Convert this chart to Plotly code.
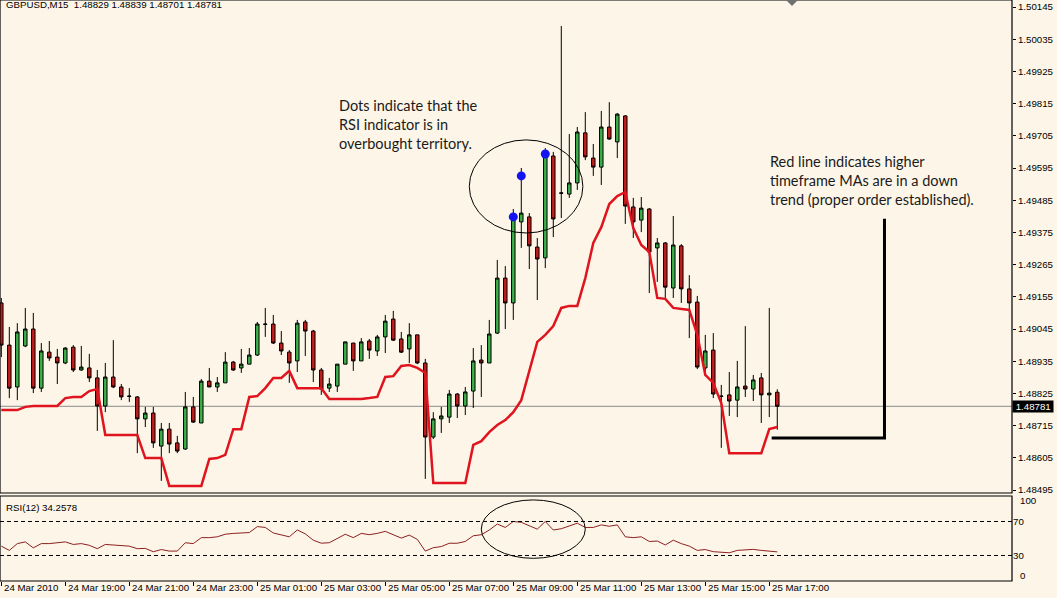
import plotly.graph_objects as go

# GBPUSD M15 candles, starting 24 Mar 2010 17:00
opens = [1.49134, 1.48990, 1.48847, 1.48987, 1.49045, 1.48843, 1.48966, 1.48949, 1.48929, 1.48983,
         1.48905, 1.48912, 1.48878, 1.48782, 1.48881, 1.48847, 1.48816, 1.48813, 1.48738, 1.48758,
         1.48645, 1.48703, 1.48656, 1.48635, 1.48779, 1.48724, 1.48867, 1.48847, 1.48861, 1.48932,
         1.48912, 1.48925, 1.48956, 1.49062, 1.49062, 1.48997, 1.48966, 1.48936, 1.49069, 1.49038,
         1.48905, 1.48843, 1.48850, 1.48925, 1.48997, 1.48936, 1.49004, 1.48970, 1.49018, 1.49079,
         1.49011, 1.48977, 1.49025, 1.48929, 1.48676, 1.48738, 1.48744, 1.48823, 1.48782, 1.48833,
         1.48939, 1.48929, 1.49031, 1.49219, 1.49134, 1.49411, 1.49428, 1.49325, 1.49288, 1.49636,
         1.49510, 1.49506, 1.49544, 1.49715, 1.49629, 1.49598, 1.49735, 1.49684, 1.49773, 1.49462,
         1.49417, 1.49455, 1.49322, 1.49339, 1.49185, 1.49329, 1.49182, 1.49137, 1.48912, 1.48973,
         1.48816, 1.48820, 1.48802, 1.48850, 1.48840, 1.48878, 1.48820, 1.48829]
highs = [1.49151, 1.49052, 1.49065, 1.49117, 1.49100, 1.48997, 1.49004, 1.48977, 1.48983, 1.48990,
         1.48987, 1.48960, 1.48905, 1.48929, 1.49007, 1.48857, 1.48843, 1.48816, 1.48779, 1.48779,
         1.48724, 1.48724, 1.48680, 1.48830, 1.48813, 1.48874, 1.48912, 1.48881, 1.48966, 1.48936,
         1.48977, 1.48980, 1.49069, 1.49117, 1.49093, 1.49038, 1.48973, 1.49076, 1.49076, 1.49042,
         1.48912, 1.48878, 1.48925, 1.49001, 1.48997, 1.49014, 1.49011, 1.49025, 1.49093, 1.49107,
         1.49035, 1.49065, 1.49025, 1.48943, 1.48761, 1.48779, 1.48837, 1.48826, 1.48847, 1.48980,
         1.48990, 1.49076, 1.49281, 1.49260, 1.49455, 1.49595, 1.49441, 1.49356, 1.49663, 1.49650,
         1.50080, 1.49711, 1.49735, 1.49786, 1.49677, 1.49790, 1.49820, 1.49783, 1.49776, 1.49493,
         1.49496, 1.49458, 1.49356, 1.49342, 1.49431, 1.49335, 1.49229, 1.49158, 1.49025, 1.49031,
         1.48854, 1.48898, 1.48936, 1.49055, 1.48888, 1.48895, 1.49117, 1.48839]
lows = [1.48949, 1.48809, 1.48802, 1.48983, 1.48826, 1.48830, 1.48936, 1.48857, 1.48925, 1.48898,
        1.48902, 1.48864, 1.48697, 1.48761, 1.48843, 1.48802, 1.48796, 1.48621, 1.48710, 1.48639,
        1.48526, 1.48621, 1.48621, 1.48632, 1.48724, 1.48724, 1.48847, 1.48830, 1.48861, 1.48902,
        1.48895, 1.48925, 1.48953, 1.49018, 1.48994, 1.48956, 1.48861, 1.48898, 1.48953, 1.48864,
        1.48820, 1.48830, 1.48830, 1.48925, 1.48902, 1.48936, 1.48943, 1.48953, 1.48963, 1.49004,
        1.48963, 1.48929, 1.48925, 1.48533, 1.48669, 1.48690, 1.48724, 1.48741, 1.48751, 1.48775,
        1.48813, 1.48929, 1.49028, 1.49045, 1.49076, 1.49322, 1.49250, 1.49144, 1.49253, 1.49359,
        1.49424, 1.49493, 1.49520, 1.49622, 1.49568, 1.49537, 1.49691, 1.49629, 1.49404, 1.49356,
        1.49376, 1.49168, 1.49206, 1.49151, 1.49151, 1.49134, 1.49014, 1.48908, 1.48884, 1.48809,
        1.48639, 1.48748, 1.48744, 1.48813, 1.48799, 1.48724, 1.48744, 1.48701]
closes = [1.48990, 1.48843, 1.49035, 1.49045, 1.48843, 1.48970, 1.48946, 1.48929, 1.48980, 1.48905,
          1.48915, 1.48878, 1.48782, 1.48881, 1.48847, 1.48813, 1.48815, 1.48738, 1.48758, 1.48656,
          1.48703, 1.48652, 1.48628, 1.48779, 1.48727, 1.48867, 1.48847, 1.48861, 1.48932, 1.48905,
          1.48925, 1.48956, 1.49062, 1.49061, 1.48997, 1.48970, 1.48929, 1.49065, 1.49038, 1.48905,
          1.48840, 1.48857, 1.48925, 1.49001, 1.48936, 1.49001, 1.48973, 1.49018, 1.49072, 1.49007,
          1.48966, 1.49025, 1.48929, 1.48676, 1.48738, 1.48748, 1.48823, 1.48782, 1.48830, 1.48936,
          1.48929, 1.49028, 1.49219, 1.49134, 1.49428, 1.49441, 1.49329, 1.49284, 1.49639, 1.49421,
          1.49509, 1.49544, 1.49718, 1.49633, 1.49598, 1.49735, 1.49694, 1.49779, 1.49465, 1.49411,
          1.49458, 1.49308, 1.49339, 1.49188, 1.49332, 1.49182, 1.49134, 1.48915, 1.48970, 1.48823,
          1.48815, 1.48799, 1.48847, 1.48840, 1.48871, 1.48820, 1.48826, 1.48781]

# Higher timeframe moving-average line (one value per M15 bar)
ma_line = [1.48768, 1.48768, 1.48768, 1.48779, 1.48782, 1.48782, 1.48782, 1.48782, 1.48809, 1.48813,
           1.48813, 1.48833, 1.48840, 1.48683, 1.48683, 1.48683, 1.48683, 1.48683, 1.48604, 1.48604,
           1.48604, 1.48509, 1.48509, 1.48509, 1.48509, 1.48509, 1.48601, 1.48604, 1.48615, 1.48703,
           1.48703, 1.48813, 1.48816, 1.48843, 1.48878, 1.48878, 1.48902, 1.48843, 1.48843, 1.48843,
           1.48843, 1.48806, 1.48806, 1.48806, 1.48806, 1.48806, 1.48809, 1.48813, 1.48881, 1.48884,
           1.48919, 1.48922, 1.48912, 1.48895, 1.48519, 1.48519, 1.48519, 1.48519, 1.48519, 1.48649,
           1.48662, 1.48693, 1.48717, 1.48734, 1.48761, 1.48802, 1.48898, 1.49001, 1.49025, 1.49055,
           1.49117, 1.49124, 1.49124, 1.49219, 1.49339, 1.49393, 1.49472, 1.49499, 1.49513, 1.49390,
           1.49332, 1.49308, 1.49151, 1.49148, 1.49117, 1.49113, 1.49110, 1.49025, 1.48888, 1.48861,
           1.48792, 1.48621, 1.48621, 1.48621, 1.48621, 1.48621, 1.48703, 1.48710]

# RSI(12)
rsi = [41, 36, 44, 46, 39, 44, 44, 45, 46, 43,
       44, 42, 38, 43, 42.5, 42, 41, 38, 38.4, 34.4,
       37, 35.2, 35.2, 45, 44, 51, 51, 52, 55, 56,
       56.5, 57, 64, 63, 56.5, 54, 52, 60, 55.5, 48,
       44.5, 45, 50, 55, 51, 56, 54.5, 56, 58.4, 54,
       50.5, 54, 49, 35.2, 39.2, 40.5, 44.4, 44.4, 46.5, 53.2,
       54.4, 60, 67, 63, 70, 69, 65, 61, 70, 60,
       61.5, 64.5, 68, 63, 63, 66, 64.4, 66, 52, 51,
       52, 46.5, 47, 42.4, 48, 44, 41, 36, 37, 34.5,
       33.5, 33.2, 36, 36.5, 37.2, 36, 35.5, 34.2578]

# Overbought RSI markers
dot_bars = [64, 65, 68]
dot_prices = [1.49428, 1.49568, 1.49643]

price_ticks = [1.48495, 1.48605, 1.48715, 1.48825, 1.48935, 1.49045, 1.49155, 1.49265,
               1.49375, 1.49485, 1.49595, 1.49705, 1.49815, 1.49925, 1.50035, 1.50145]
price_tick_labels = ["%.5f" % v for v in price_ticks]

time_tick_bars = [0, 8, 16, 24, 32, 40, 48, 56, 64, 72, 80, 88, 96]
time_tick_labels = ["24 Mar 2010", "24 Mar 19:00", "24 Mar 21:00", "24 Mar 23:00",
                    "25 Mar 01:00", "25 Mar 03:00", "25 Mar 05:00", "25 Mar 07:00",
                    "25 Mar 09:00", "25 Mar 11:00", "25 Mar 13:00", "25 Mar 15:00",
                    "25 Mar 17:00"]

last_price = 1.48781
header = "GBPUSD,M15  1.48829 1.48839 1.48701 1.48781"
rsi_label = "RSI(12) 34.2578"

bars = list(range(len(opens)))

BG = "#fdf6e8"
AXFONT = dict(family="Liberation Sans, Arial, sans-serif", size=9.7, color="#000000")
NOTEFONT = dict(family="Lato, 'Open Sans', sans-serif", size=14.5, color="#1a1a1a")

fig = go.Figure()

fig.add_trace(go.Candlestick(
    x=bars, open=opens, high=highs, low=lows, close=closes,
    increasing=dict(line=dict(color="#000000", width=1), fillcolor="#3cb04a"),
    decreasing=dict(line=dict(color="#000000", width=1), fillcolor="#c41c1c"),
    whiskerwidth=0, showlegend=False, hoverinfo="skip",
))

fig.add_trace(go.Scatter(
    x=bars, y=ma_line, mode="lines",
    line=dict(color="#e0141e", width=2.5), showlegend=False, hoverinfo="skip",
))

fig.add_trace(go.Scatter(
    x=dot_bars, y=dot_prices, mode="markers",
    marker=dict(color="#1414f0", size=9, line=dict(width=0)),
    showlegend=False, hoverinfo="skip",
))

fig.add_trace(go.Scatter(
    x=bars, y=rsi, mode="lines", yaxis="y2",
    line=dict(color="#8b2020", width=1), showlegend=False, hoverinfo="skip",
))

shapes = [
    # panel frames
    dict(type="rect", xref="x domain", yref="y domain", x0=0, x1=1, y0=0, y1=1,
         line=dict(color="#000000", width=1.2)),
    dict(type="rect", xref="x domain", yref="y2 domain", x0=0, x1=1, y0=0, y1=1,
         line=dict(color="#000000", width=1.2)),
    # current bid line
    dict(type="line", xref="x domain", yref="y", x0=0, x1=1, y0=last_price, y1=last_price,
         line=dict(color="#8a8a8a", width=1), layer="below"),
    # RSI levels
    dict(type="line", xref="x domain", yref="y2", x0=0, x1=1, y0=70, y1=70,
         line=dict(color="#000000", width=1, dash="4px,3px")),
    dict(type="line", xref="x domain", yref="y2", x0=0, x1=1, y0=30, y1=30,
         line=dict(color="#000000", width=1, dash="4px,3px")),
    # highlight ellipses
    dict(type="circle", xref="x", yref="y", x0=58.5, x1=72.7, y0=1.49373, y1=1.49691,
         line=dict(color="#000000", width=1)),
    dict(type="circle", xref="x", yref="y2", x0=60.0, x1=73.0, y0=26.7, y1=95.4,
         line=dict(color="#000000", width=1)),
    # pointer bracket
    dict(type="path", xref="x", yref="y",
         path="M 96.3,1.48673 L 110.4,1.48673 L 110.4,1.49422",
         line=dict(color="#000000", width=3)),
    # chart shift marker
    dict(type="path", xref="paper", yref="paper",
         path="M 0.7767,1 L 0.7885,1 L 0.7826,0.9897 Z",
         fillcolor="#707070", line=dict(color="#707070", width=0)),
]

annotations = [
    dict(text=header, xref="paper", yref="paper", x=0.004, y=0.9915,
         xanchor="left", yanchor="middle", showarrow=False, font=AXFONT),
    dict(text=rsi_label, xref="paper", yref="y2 domain", x=0.004, y=0.87,
         xanchor="left", yanchor="middle", showarrow=False, font=AXFONT),
    dict(text="Dots indicate that the<br>RSI indicator is in<br>overbought territory.",
         xref="paper", yref="paper", x=337 / 1012, y=1 - 95 / 581, xanchor="left", yanchor="top",
         align="left", showarrow=False, font=NOTEFONT),
    dict(text="Red line indicates higher<br>timeframe MAs are in a down<br>trend (proper order established).",
         xref="paper", yref="paper", x=768 / 1012, y=1 - 151 / 581, xanchor="left", yanchor="top",
         align="left", showarrow=False, font=NOTEFONT),
    # last price tag
    dict(text=" %.5f " % last_price, xref="paper", yref="y", x=1.0, y=last_price,
         xanchor="left", yanchor="middle", showarrow=False, bgcolor="#000000",
         font=dict(family=AXFONT["family"], size=9.7, color="#ffffff"), borderpad=0),
    # RSI scale ends
    dict(text="100", xref="paper", yref="y2", x=1.006, y=95, xanchor="left", yanchor="middle",
         showarrow=False, font=AXFONT),
    dict(text="0", xref="paper", yref="y2", x=1.006, y=6.5, xanchor="left", yanchor="middle",
         showarrow=False, font=AXFONT),
]

for b, lab in zip(time_tick_bars, time_tick_labels):
    annotations.append(dict(text=lab, xref="x", yref="paper", x=b + 0.1, y=-0.0105,
                            xanchor="left", yanchor="middle", showarrow=False, font=AXFONT))

fig.update_layout(
    width=1057, height=598,
    margin=dict(l=0, r=45, t=0, b=17),
    paper_bgcolor=BG, plot_bgcolor=BG,
    boxgap=0.38,
    shapes=shapes, annotations=annotations,
    xaxis=dict(range=[-0.1625, 126.34], anchor="y2", showgrid=False, zeroline=False,
               rangeslider=dict(visible=False), tickvals=time_tick_bars, showticklabels=False,
               ticks="outside", ticklen=4, tickcolor="#000000", showline=False),
    yaxis=dict(domain=[0.15146, 1], range=[1.484848, 1.501689], side="right",
               tickvals=price_ticks, ticktext=price_tick_labels, tickfont=AXFONT,
               ticks="outside", ticklen=3, tickcolor="#000000", showgrid=False, zeroline=False,
               showline=False),
    yaxis2=dict(domain=[0, 0.1463], range=[0, 100], side="right", tickvals=[70, 30],
                ticktext=["70", "30"], tickfont=AXFONT, ticks="", showgrid=False,
                zeroline=False, showline=False),
)

fig.write_html("out.html")
